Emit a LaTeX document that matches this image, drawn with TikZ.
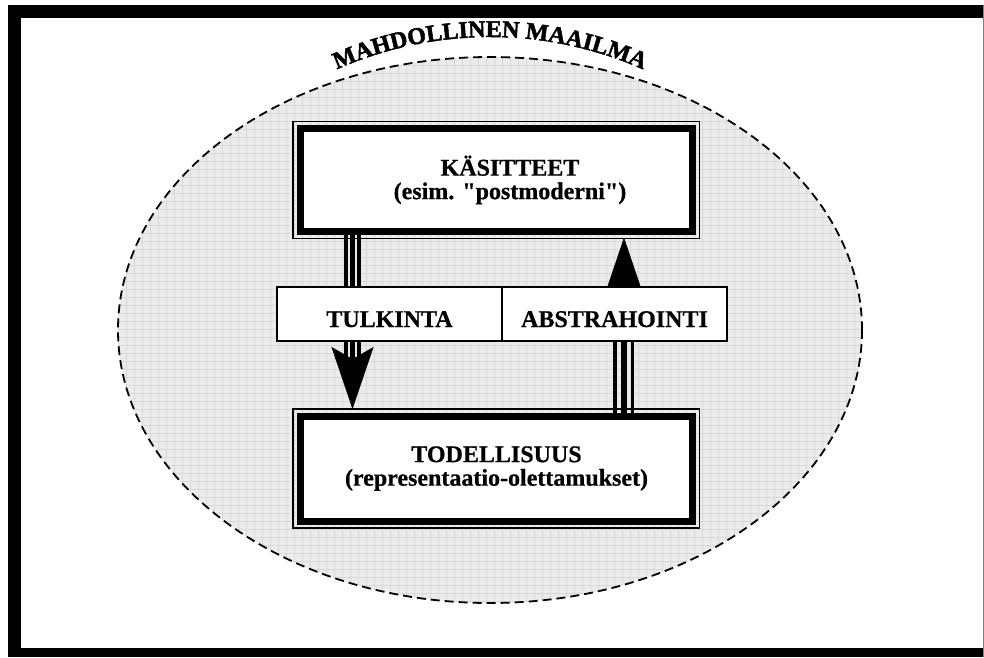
\documentclass[tikz,border=0pt]{standalone}
\usepackage{fontspec}
\setmainfont{Liberation Serif}[Ligatures=TeXOff, BoldFeatures={FakeBold=0.6}]
\newfontfamily\arcfont{Liberation Serif}[Ligatures=TeXOff, BoldFeatures={FakeBold=2}]
\usetikzlibrary{arrows.meta,decorations.text,positioning}

\tikzset{
  bigbox/.style={draw, line width=7pt, fill=white, outer sep=0pt, minimum width=392pt, align=center, font=\bfseries\fontsize{24}{23.5}\selectfont},
  tagbox/.style={draw, line width=1.7pt, fill=white, outer sep=0pt, inner sep=0pt, minimum width=225pt, minimum height=54pt, text height=26pt, text depth=0pt, font=\bfseries\fontsize{24}{24}\selectfont},
  midline/.style={line width=5.5pt},
  sideline/.style={line width=3.5pt},
  bigtip/.style={-{Stealth[length=62pt, width=42pt, inset=12pt, line width=0.5pt]}}
}

\begin{document}
\begin{tikzpicture}[x=1pt,y=-1pt]
\useasboundingbox (0,0) rectangle (984,657);
% frame
\fill (8,5) rectangle (21,657);
\fill (8,5) rectangle (983,18);
\fill (8,648) rectangle (983,657);
\draw[gray, line width=1pt] (983,5) -- (983,657);
% possible world
\begin{scope}
  \clip (490,330) ellipse [x radius=372, y radius=273];
  \fill[gray!16] (118,57) rectangle (862,603);
  \foreach \gx in {118,126,...,862}
    \draw[gray!30, line width=0.7pt] (\gx,57) -- (\gx,603);
  \foreach \gy in {57,65,...,603}
    \draw[gray!30, line width=0.7pt] (118,\gy) -- (862,\gy);
\end{scope}
\draw[line width=1.8pt, dash pattern=on 9pt off 5pt] (490,330) ellipse [x radius=372, y radius=273];
\path[decorate, decoration={text along path, text align=center,
  text={|\arcfont\bfseries\fontsize{24}{24}\selectfont|MAHDOLLINEN MAAILMA}}]
  (312.5,81.25) arc[start angle=-118, end angle=-62, radius=378];

\node[bigbox, minimum height=103.5pt] (kas) at (496.5,179.9)
  {\hspace*{27pt}KÄSITTEET\\\hspace*{27pt}(esim. "postmoderni")};
\node[bigbox, minimum height=105pt] (tod) at (496.5,468.5)
  {TODELLISUUS\\(representaatio-olettamukset)};
\foreach \b in {kas,tod}
  \draw[line width=1.2pt] ([shift={(-7.5,-7)}]\b.north west) rectangle ([shift={(7,7)}]\b.south east);

% arrows
\coordinate (downx) at (352.5,0);
\coordinate (upx) at (624,0);
\draw[midline, bigtip, shorten >=7pt] (kas.south -| downx) -- (tod.north -| downx);
\foreach \dx in {-6.3,6.7}
  \draw[sideline, shorten >=47pt, transform canvas={xshift=\dx pt}] (kas.south -| downx) -- (tod.north -| downx);
\draw[midline, bigtip, shorten >=6pt] (tod.north -| upx) -- (kas.south -| upx);
\foreach \dx in {-8.8,8.5}
  \draw[sideline, shorten >=46pt, transform canvas={xshift=\dx pt}] (tod.north -| upx) -- (kas.south -| upx);

\node[tagbox] (tulk) at (389.5,314) {TULKINTA};
\node[tagbox, right=0pt of tulk] (abst) {ABSTRAHOINTI};
\end{tikzpicture}
\end{document}
